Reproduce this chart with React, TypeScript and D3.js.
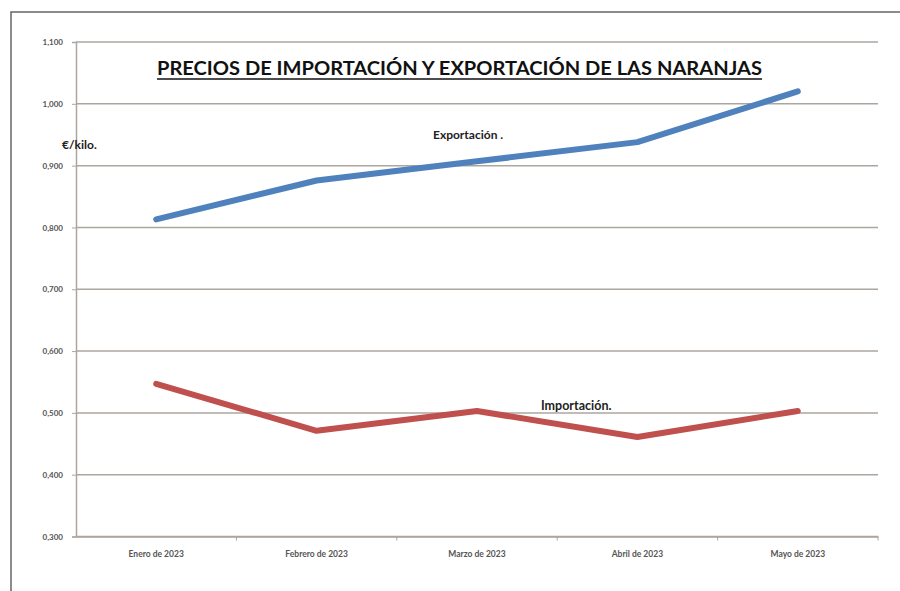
import React, { useEffect, useRef } from "react"
import * as d3 from "d3"

// values (€/kilo)
const months = ["Enero de 2023", "Febrero de 2023", "Marzo de 2023", "Abril de 2023", "Mayo de 2023"]
const exportacion = [0.813, 0.876, 0.907, 0.938, 1.02]
const importacion = [0.547, 0.471, 0.503, 0.461, 0.503]
const yTicks = [0.3, 0.4, 0.5, 0.6, 0.7, 0.8, 0.9, 1.0, 1.1]

const title = "PRECIOS DE IMPORTACIÓN Y EXPORTACIÓN DE LAS NARANJAS"

const App: React.FC = () => {
	const ref = useRef<SVGGElement>(null)
	const width = 900
	const height = 591
	const margin = { top: 42, right: 22, bottom: 54.5, left: 76 }
	const innerWidth = width - margin.left - margin.right
	const innerHeight = height - margin.top - margin.bottom

	useEffect(() => {
		const g = d3.select(ref.current)
		g.selectAll("*").remove()

		const x = d3.scaleBand().domain(months).range([0, innerWidth])
		const y = d3.scaleLinear().domain([0.3, 1.1]).range([innerHeight, 0])
		const fmt = (d: number) => d3.format(".3f")(d).replace(".", ",")
		const gridColor = "#aca6a1"
		const font = "Lato, 'Open Sans', sans-serif"

		/* grid */
		g.append("g")
			.selectAll("line")
			.data(yTicks)
			.join("line")
			.attr("x1", 0)
			.attr("x2", innerWidth)
			.attr("y1", (d) => y(d))
			.attr("y2", (d) => y(d))
			.attr("stroke", gridColor)
			.attr("stroke-width", 1.5)

		/* y axis */
		const yAxis = g.append("g").call(
			d3.axisLeft(y).tickValues(yTicks).tickSize(4).tickFormat((d) => fmt(d as number))
		)
		yAxis.select(".domain").attr("stroke", gridColor).attr("stroke-width", 1.5)
		yAxis.selectAll(".tick line").attr("stroke", gridColor)
		yAxis.selectAll("text")
			.attr("x", -13)
			.attr("fill", "#555")
			.style("font-family", font)
			.style("font-weight", "bold")
			.style("font-size", "8px")

		/* x axis */
		const xAxis = g.append("g")
			.attr("transform", `translate(0,${innerHeight})`)
			.call(d3.axisBottom(x).tickSize(0).tickPadding(14))
		xAxis.select(".domain").attr("stroke", gridColor).attr("stroke-width", 1.5)
		xAxis.selectAll("text")
			.attr("fill", "#555")
			.style("font-family", font)
			.style("font-weight", "bold")
			.style("font-size", "8.5px")
		g.append("g")
			.selectAll("line")
			.data(d3.range(1, months.length + 1))
			.join("line")
			.attr("x1", (i) => i * x.bandwidth())
			.attr("x2", (i) => i * x.bandwidth())
			.attr("y1", innerHeight)
			.attr("y2", innerHeight + 4)
			.attr("stroke", gridColor)

		/* lines */
		const line = d3
			.line<number>()
			.x((d, i) => (x(months[i]) as number) + x.bandwidth() / 2)
			.y((d) => y(d))
		const series: [number[], string][] = [
			[importacion, "#c0504d"],
			[exportacion, "#4f81bd"],
		]
		series.forEach(([vals, color]) => {
			g.append("path")
				.datum(vals)
				.attr("fill", "none")
				.attr("stroke", color)
				.attr("stroke-width", 6)
				.attr("stroke-linecap", "round")
				.attr("stroke-linejoin", "round")
				.attr("d", line)
		})

		/* labels */
		const lbl = (text: string, tx: number, ty: number, size: number) =>
			g.append("text")
				.attr("x", tx)
				.attr("y", ty)
				.attr("fill", "#222")
				.style("font-family", font)
				.style("font-weight", "bold")
				.style("font-size", size + "px")
				.text(text)
		lbl("€/kilo.", -14, 107, 12)
		lbl("Exportación .", 357, 97, 12)
		lbl("Importación.", 465, 368, 12.5)

		g.append("text")
			.attr("x", 81)
			.attr("y", 33)
			.attr("textLength", 605)
			.attr("lengthAdjust", "spacingAndGlyphs")
			.attr("fill", "#111")
			.style("font-family", font)
			.style("font-weight", "bold")
			.style("font-size", "19px")
			.text(title)
		g.append("line")
			.attr("x1", 81)
			.attr("x2", 686)
			.attr("y1", 37)
			.attr("y2", 37)
			.attr("stroke", "#111")
			.attr("stroke-width", 1.6)

		g.attr("transform", `translate(${margin.left},${margin.top})`)
	}, [])

	return (
		<svg
			width={width}
			height={height}
			style={{ position: "absolute", left: 0, top: 0, background: "#fff" }}>
			<rect x={11} y={12} width={900} height={600} fill="none" stroke="#666" strokeWidth={1.5} />
			<g ref={ref} />
		</svg>
	)
}

export default App
